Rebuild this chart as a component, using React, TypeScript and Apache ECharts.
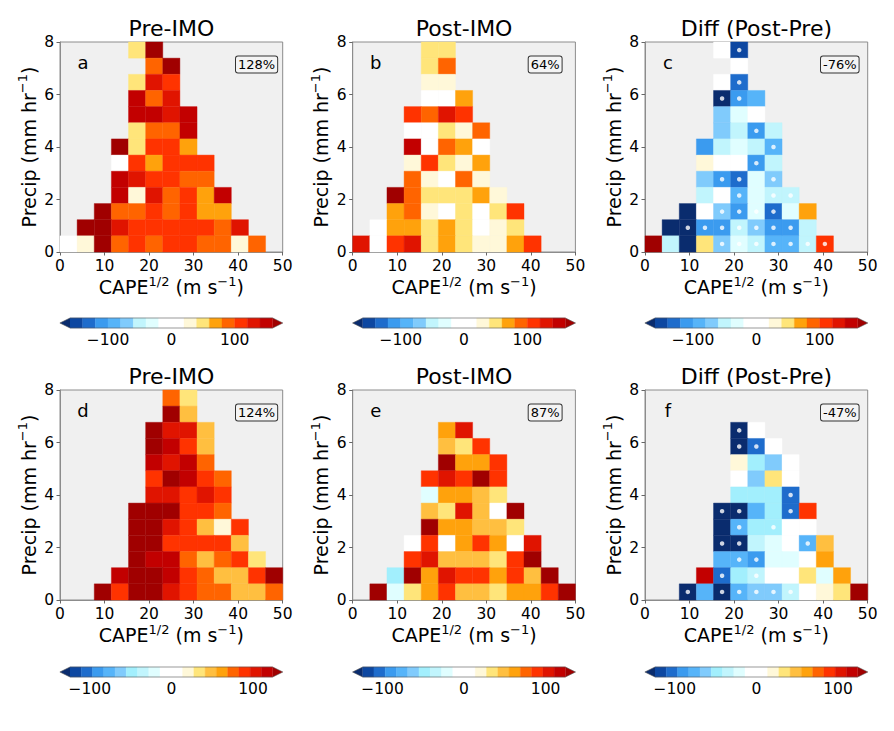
import React, { useEffect, useRef } from 'react';
import * as echarts from 'echarts';

const _ = null;
const FONT = 'DejaVu Sans';

// ---- axes / binning ----
const capeMin = 0, capeMax = 50, capeStep = 10;
const precipMin = 0, precipMax = 8, precipStep = 2;
const nCape = 13, nPrecip = 13;
const capeEdges = Array.from({ length: nCape + 1 }, (u, k) => capeMin + (k * (capeMax - capeMin)) / nCape);
const precipEdges = Array.from({ length: nPrecip + 1 }, (u, k) => precipMin + (k * (precipMax - precipMin)) / nPrecip);

// ---- colour scales ----
const topLevels = [-160, -140, -120, -100, -80, -60, -40, -20, 0, 20, 40, 60, 80, 100, 120, 140, 160];
const topColors = ['#0d47a1', '#1e6ccc', '#3b9bef', '#56b4f9', '#80cbfc', '#c1f5fd', '#e0feff', '#ffffff',
  '#ffffff', '#fff8d9', '#ffe57a', '#ffa20c', '#ff6400', '#ff3300', '#e01400', '#c20000'];
const bottomLevels = [-124.2, -110.4, -96.6, -82.8, -69, -55.2, -41.4, -27.6, -13.8, 0, 13.8, 27.6, 41.4, 55.2, 69, 82.8, 96.6, 110.4, 124.2];
const bottomColors = ['#0d47a1', '#1e6ccc', '#3b9bef', '#56b4f9', '#80cbfc', '#a2effd', '#c1f5fd', '#e0feff', '#ffffff',
  '#ffffff', '#fff8d9', '#ffe57a', '#ffbf40', '#ffa20c', '#ff6400', '#ff3300', '#e01400', '#c20000'];
const underColor = '#0a2c6e';
const overColor = '#a00000';
const cbarTicks = [-100, 0, 100];

// ---- panel data (% change), rows listed from top (precip 7.4-8) to bottom (0-0.6) ----
const preImoA = [
  [_, _, _, _, 50, 170, _, _, _, _, _, _, _],
  [_, _, _, _, _, 90, 170, _, _, _, _, _, _],
  [_, _, _, _, 50, 130, 110, _, _, _, _, _, _],
  [_, _, _, _, 150, 90, 130, _, _, _, _, _, _],
  [_, _, _, _, 150, 150, 130, 150, _, _, _, _, _],
  [_, _, _, _, 50, 90, 90, 150, _, _, _, _, _],
  [_, _, _, 170, 50, 110, 110, 70, _, _, _, _, _],
  [_, _, _, 10, 110, 70, 110, 110, 110, _, _, _, _],
  [_, _, _, 150, 130, 110, 110, 90, 90, _, _, _, _],
  [_, _, _, 150, 30, 130, 90, 110, 70, 150, _, _, _],
  [_, _, 170, 90, 90, 110, 90, 110, 70, 70, _, _, _],
  [_, 170, 170, 130, 110, 110, 110, 110, 110, 90, 130, _, _],
  [10, 30, 170, 90, 110, 90, 110, 110, 90, 90, 30, 90, _],
];
const postImoB = [
  [_, _, _, _, 50, 50, _, _, _, _, _, _, _],
  [_, _, _, _, 50, 90, _, _, _, _, _, _, _],
  [_, _, _, _, 30, 30, _, _, _, _, _, _, _],
  [_, _, _, _, 10, 10, 70, _, _, _, _, _, _],
  [_, _, _, 110, 90, 130, 110, _, _, _, _, _, _],
  [_, _, _, 10, 10, 50, 30, 90, _, _, _, _, _],
  [_, _, _, 150, 10, 90, 70, 10, _, _, _, _, _],
  [_, _, _, 30, 110, 50, 30, 70, _, _, _, _, _],
  [_, _, _, 90, 30, 10, 90, 30, _, _, _, _, _],
  [_, _, 170, 90, 50, 50, 50, 70, 30, _, _, _, _],
  [_, _, 70, 90, 30, 10, 50, 10, 50, 110, _, _, _],
  [_, 10, 70, 70, 50, 70, 50, 10, 30, 50, _, _, _],
  [130, 10, 110, 130, 50, 70, 50, 30, 30, 70, 110, _, _],
];
const diffC = [
  [_, _, _, _, 10, -150, _, _, _, _, _, _, _],
  [_, _, _, _, _, 10, _, _, _, _, _, _, _],
  [_, _, _, _, 10, -130, _, _, _, _, _, _, _],
  [_, _, _, _, -170, -110, -90, _, _, _, _, _, _],
  [_, _, _, _, -70, -30, 10, _, _, _, _, _, _],
  [_, _, _, _, -70, -50, -110, -50, _, _, _, _, _],
  [_, _, _, -110, -50, -30, -50, -90, _, _, _, _, _],
  [_, _, _, 30, 10, 10, -110, -50, _, _, _, _, _],
  [_, _, _, -70, -110, -130, -30, -70, _, _, _, _, _],
  [_, _, _, -50, 10, -90, -30, -50, -50, _, _, _, _],
  [_, _, -170, 10, -70, -110, -30, -130, -30, 70, _, _, _],
  [_, -170, -170, -110, -110, -50, -70, -110, -110, -50, _, _, _],
  [170, -50, -170, 50, -70, -30, -50, -90, -90, -50, 110, _, _],
];
const sigC = [
  [0, 0, 0, 0, 0, 1, 0, 0, 0, 0, 0, 0, 0],
  [0, 0, 0, 0, 0, 0, 0, 0, 0, 0, 0, 0, 0],
  [0, 0, 0, 0, 0, 1, 0, 0, 0, 0, 0, 0, 0],
  [0, 0, 0, 0, 1, 1, 0, 0, 0, 0, 0, 0, 0],
  [0, 0, 0, 0, 0, 0, 0, 0, 0, 0, 0, 0, 0],
  [0, 0, 0, 0, 0, 0, 1, 0, 0, 0, 0, 0, 0],
  [0, 0, 0, 0, 0, 0, 0, 1, 0, 0, 0, 0, 0],
  [0, 0, 0, 0, 0, 0, 1, 0, 0, 0, 0, 0, 0],
  [0, 0, 0, 0, 1, 1, 0, 1, 0, 0, 0, 0, 0],
  [0, 0, 0, 0, 0, 1, 0, 1, 1, 0, 0, 0, 0],
  [0, 0, 0, 0, 1, 1, 1, 1, 0, 0, 0, 0, 0],
  [0, 0, 1, 1, 1, 1, 1, 1, 1, 0, 0, 0, 0],
  [0, 0, 0, 0, 1, 1, 1, 1, 1, 1, 1, 0, 0],
];
const preImoD = [
  [_, _, _, _, _, _, 76, 35, _, _, _, _, _],
  [_, _, _, _, _, _, 135, 48, _, _, _, _, _],
  [_, _, _, _, _, 135, 104, 104, 48, _, _, _, _],
  [_, _, _, _, _, 135, 117, 90, 48, _, _, _, _],
  [_, _, _, _, _, 117, 104, 117, 76, _, _, _, _],
  [_, _, _, _, _, 90, 135, 117, 90, 76, _, _, _],
  [_, _, _, _, _, 104, 104, 90, 104, 90, _, _, _],
  [_, _, _, _, 135, 135, 135, 90, 90, 76, _, _, _],
  [_, _, _, _, 135, 135, 104, 90, 48, 21, 90, _, _],
  [_, _, _, _, 135, 135, 90, 90, 90, 90, 48, _, _],
  [_, _, _, _, 135, 117, 117, 76, 48, 76, 90, 35, _],
  [_, _, _, 117, 135, 135, 117, 90, 76, 48, 48, 90, 135],
  [_, _, 135, 90, 135, 135, 104, 90, 76, 76, 48, 48, 76],
];
const postImoE = [
  [_, _, _, _, _, _, _, _, _, _, _, _, _],
  [_, _, _, _, _, _, _, _, _, _, _, _, _],
  [_, _, _, _, _, 62, 104, _, _, _, _, _, _],
  [_, _, _, _, _, 48, 35, 90, _, _, _, _, _],
  [_, _, _, _, _, 135, 62, 62, 90, _, _, _, _],
  [_, _, _, _, 90, 104, 90, 135, 90, _, _, _, _],
  [_, _, _, _, -21, 62, 62, 48, 35, _, _, _, _],
  [_, _, _, _, 48, 35, 104, 48, 7, 135, _, _, _],
  [_, _, _, _, 135, 62, 62, 48, 48, 35, _, _, _],
  [_, _, _, 7, 90, 7, 62, 90, 62, 7, 104, _, _],
  [_, _, _, 90, 104, 48, 48, 48, 35, 90, 135, _, _],
  [_, _, -48, 135, 62, 104, 90, 90, 62, 90, 48, 135, _],
  [_, 135, -21, 35, 62, 90, 48, 48, 35, 62, 62, 90, 135],
];
const diffF = [
  [_, _, _, _, _, _, _, _, _, _, _, _, _],
  [_, _, _, _, _, _, _, _, _, _, _, _, _],
  [_, _, _, _, _, -135, 7, _, _, _, _, _, _],
  [_, _, _, _, _, -135, -104, 7, _, _, _, _, _],
  [_, _, _, _, _, 21, -48, -62, 7, _, _, _, _],
  [_, _, _, _, _, 7, -62, 35, 7, _, _, _, _],
  [_, _, _, _, _, -48, -48, -48, -104, _, _, _, _],
  [_, _, _, _, -135, -135, -76, -48, -104, 90, _, _, _],
  [_, _, _, _, -135, -76, -48, -48, 7, 7, _, _, _],
  [_, _, _, _, -135, -135, -35, -21, 7, -76, 48, _, _],
  [_, _, _, _, -76, -76, -90, -21, -21, 7, 62, _, _],
  [_, _, _, 117, -104, -48, -35, 7, 7, 35, -21, 62, _],
  [_, _, -135, -76, -135, -76, -62, -62, -35, 7, 21, 35, 135],
];
const sigF = [
  [0, 0, 0, 0, 0, 0, 0, 0, 0, 0, 0, 0, 0],
  [0, 0, 0, 0, 0, 0, 0, 0, 0, 0, 0, 0, 0],
  [0, 0, 0, 0, 0, 1, 0, 0, 0, 0, 0, 0, 0],
  [0, 0, 0, 0, 0, 1, 1, 0, 0, 0, 0, 0, 0],
  [0, 0, 0, 0, 0, 0, 0, 0, 0, 0, 0, 0, 0],
  [0, 0, 0, 0, 0, 0, 0, 0, 0, 0, 0, 0, 0],
  [0, 0, 0, 0, 0, 0, 0, 0, 1, 0, 0, 0, 0],
  [0, 0, 0, 0, 1, 1, 0, 0, 1, 0, 0, 0, 0],
  [0, 0, 0, 0, 0, 1, 0, 1, 0, 0, 0, 0, 0],
  [0, 0, 0, 0, 1, 1, 0, 0, 0, 1, 0, 0, 0],
  [0, 0, 0, 0, 0, 1, 1, 0, 0, 0, 0, 0, 0],
  [0, 0, 0, 0, 1, 0, 1, 0, 0, 0, 0, 0, 0],
  [0, 0, 1, 0, 1, 1, 1, 1, 1, 0, 0, 0, 0],
];

const panelTitles = ['Pre-IMO', 'Post-IMO', 'Diff (Post-Pre)', 'Pre-IMO', 'Post-IMO', 'Diff (Post-Pre)'];
const panelLetters = ['a', 'b', 'c', 'd', 'e', 'f'];
const panelTotals = ['128%', '64%', '-76%', '124%', '87%', '-47%'];
const panelGrids = [preImoA, postImoB, diffC, preImoD, postImoE, diffF];
const panelSig = [null, null, sigC, null, null, sigF];

// ---- layout ----
const plotLefts = [60, 352.7, 645];
const plotWidth = 222.7;
const rowTops = [42, 390];
const plotHeight = 210;
const cbarTops = [318, 667];
const cbarHeight = 10;
const cbarInset = 10;

function colorFor(v: number, levels: number[], colors: string[]) {
  if (v < levels[0]) return underColor;
  if (v > levels[levels.length - 1]) return overColor;
  for (let k = 0; k < colors.length; k++) {
    if (v >= levels[k] && v <= levels[k + 1]) return colors[k];
  }
  return overColor;
}

function cellsFrom(grid: (number | null)[][]) {
  const out: number[][] = [];
  grid.forEach((row, r) => row.forEach((v, i) => {
    if (v !== null) out.push([i, nPrecip - 1 - r, v]);
  }));
  return out;
}

function sigPoints(mask: number[][]) {
  const out: number[][] = [];
  mask.forEach((row, r) => row.forEach((m, i) => {
    const j = nPrecip - 1 - r;
    if (m) out.push([(capeEdges[i] + capeEdges[i + 1]) / 2, (precipEdges[j] + precipEdges[j + 1]) / 2]);
  }));
  return out;
}

const fmtMinus = (v: number) => (v < 0 ? '\u2212' + Math.abs(v) : String(v));

function buildOption() {
  const grid: any[] = [];
  const xAxis: any[] = [];
  const yAxis: any[] = [];
  const series: any[] = [];
  const graphic: any[] = [];

  const nameRich = {
    a: { fontSize: 19, fontFamily: FONT, color: '#000', lineHeight: 25 },
    s: { fontSize: 13, fontFamily: FONT, color: '#000', lineHeight: 13, verticalAlign: 'top' },
  };

  for (let p = 0; p < 6; p++) {
    const row = Math.floor(p / 3);
    const col = p % 3;
    const left = plotLefts[col];
    const top = rowTops[row];
    const levels = row === 0 ? topLevels : bottomLevels;
    const colors = row === 0 ? topColors : bottomColors;

    // main panel
    grid.push({
      left, top, width: plotWidth, height: plotHeight,
      show: true, backgroundColor: '#f0f0f0', borderColor: '#8c8c8c', borderWidth: 1,
    });
    const gi = grid.length - 1;
    xAxis.push({
      type: 'value', gridIndex: gi, min: capeMin, max: capeMax, interval: capeStep,
      axisLine: { show: true, lineStyle: { color: '#8c8c8c', width: 1 } },
      axisTick: { show: true, length: 3.5, lineStyle: { color: '#666' } },
      axisLabel: { fontSize: 15.5, fontFamily: FONT, color: '#000', margin: 6 },
      splitLine: { show: false },
      name: '{a|CAPE}{s|1/2}{a| (m s}{s|\u22121}{a|)}',
      nameLocation: 'middle', nameGap: 19,
      nameTextStyle: { fontSize: 19, fontFamily: FONT, color: '#000', rich: nameRich },
    });
    yAxis.push({
      type: 'value', gridIndex: gi, min: precipMin, max: precipMax, interval: precipStep,
      axisLine: { show: true, lineStyle: { color: '#8c8c8c', width: 1 } },
      axisTick: { show: true, length: 3.5, lineStyle: { color: '#666' } },
      axisLabel: { fontSize: 15.5, fontFamily: FONT, color: '#000', margin: 6 },
      splitLine: { show: false },
      name: '{a|Precip (mm hr}{s|\u22121}{a|)}',
      nameLocation: 'middle', nameGap: 19,
      nameTextStyle: { fontSize: 19, fontFamily: FONT, color: '#000', rich: nameRich },
    });
    series.push({
      type: 'custom', xAxisIndex: gi, yAxisIndex: gi, z: 2,
      data: cellsFrom(panelGrids[p] as any),
      renderItem: (params: any, api: any) => {
        const i = api.value(0), j = api.value(1), v = api.value(2);
        const p0 = api.coord([capeEdges[i], precipEdges[j + 1]]);
        const p1 = api.coord([capeEdges[i + 1], precipEdges[j]]);
        const c = colorFor(v, levels, colors);
        return {
          type: 'rect',
          shape: { x: p0[0], y: p0[1], width: p1[0] - p0[0], height: p1[1] - p0[1] },
          style: { fill: c, stroke: c, lineWidth: 0.4 },
        };
      },
    });
    const sig = panelSig[p];
    if (sig) {
      series.push({
        type: 'scatter', xAxisIndex: gi, yAxisIndex: gi, z: 3,
        data: sigPoints(sig), symbol: 'circle', symbolSize: 4.5,
        itemStyle: { color: '#ffffff' },
      });
    }

    // titles & annotations
    graphic.push({
      type: 'text', x: left + plotWidth / 2, y: top - 14, z: 10,
      style: { text: panelTitles[p], fontSize: 22, fontFamily: FONT, fill: '#000', align: 'center', verticalAlign: 'middle' },
    });
    graphic.push({
      type: 'text', x: left + 23, y: top + 20, z: 10,
      style: { text: panelLetters[p], fontSize: 18, fontFamily: FONT, fill: '#000', align: 'center', verticalAlign: 'middle' },
    });
    graphic.push({
      type: 'text', x: left + 176, y: top + 22.5, z: 10,
      style: {
        text: panelTotals[p], fontSize: 13, fontFamily: FONT, fill: '#000', align: 'left', verticalAlign: 'middle',
        backgroundColor: '#f4f4f4', borderColor: '#333', borderWidth: 1, borderRadius: 2, padding: [2, 2, 1, 2],
      },
    });

    // colorbar
    grid.push({
      left: left + cbarInset, top: cbarTops[row], width: plotWidth - 2 * cbarInset, height: cbarHeight,
      show: false,
    });
    const ci = grid.length - 1;
    const lo = levels[0], hi = levels[levels.length - 1];
    xAxis.push({
      type: 'value', gridIndex: ci, min: lo, max: hi,
      axisLine: { show: false }, axisTick: { show: false }, splitLine: { show: false },
      axisLabel: {
        show: true, customValues: cbarTicks, fontSize: 15.5, fontFamily: FONT, color: '#000', margin: 4,
        formatter: (v: number) => fmtMinus(Math.round(v)),
      },
    });
    yAxis.push({ type: 'value', gridIndex: ci, min: 0, max: 1, show: false });
    series.push({
      type: 'custom', xAxisIndex: ci, yAxisIndex: ci, z: 2,
      data: colors.map((c, k) => [levels[k], levels[k + 1], k]),
      renderItem: (params: any, api: any) => {
        const a = api.coord([api.value(0), 1]);
        const b = api.coord([api.value(1), 0]);
        const c = colors[api.value(2)];
        return {
          type: 'rect',
          shape: { x: a[0], y: a[1], width: b[0] - a[0], height: b[1] - a[1] },
          style: { fill: c, stroke: c, lineWidth: 0.4 },
        };
      },
    });
    series.push({
      type: 'custom', xAxisIndex: ci, yAxisIndex: ci, z: 3,
      data: [[lo, 0], [hi, 1], [lo, 2]],
      renderItem: (params: any, api: any) => {
        const kind = api.value(1);
        const lt = api.coord([lo, 1]);
        const lb = api.coord([lo, 0]);
        const rt = api.coord([hi, 1]);
        const rb = api.coord([hi, 0]);
        const ext = 0.05 * (rt[0] - lt[0]);
        const midY = (lt[1] + lb[1]) / 2;
        if (kind === 0) {
          return { type: 'polygon', shape: { points: [lt, lb, [lt[0] - ext, midY]] }, style: { fill: underColor } };
        }
        if (kind === 1) {
          return { type: 'polygon', shape: { points: [rt, rb, [rt[0] + ext, midY]] }, style: { fill: overColor } };
        }
        return {
          type: 'polygon',
          shape: { points: [lt, rt, [rt[0] + ext, midY], rb, lb, [lt[0] - ext, midY]] },
          style: { fill: 'none', stroke: '#555', lineWidth: 0.6 },
        };
      },
    });
  }

  return {
    animation: false,
    backgroundColor: '#ffffff',
    textStyle: { fontFamily: FONT },
    grid, xAxis, yAxis, series, graphic,
  };
}

export default function App() {
  const ref = useRef<HTMLDivElement>(null);
  useEffect(() => {
    if (!ref.current) return;
    const chart = echarts.init(ref.current, undefined, { renderer: 'svg' });
    chart.setOption(buildOption() as any);
    return () => chart.dispose();
  }, []);
  return (
    <div
      ref={ref}
      style={{ position: 'absolute', left: 0, top: 0, width: 894, height: 731, background: '#fff' }}
    />
  );
}
